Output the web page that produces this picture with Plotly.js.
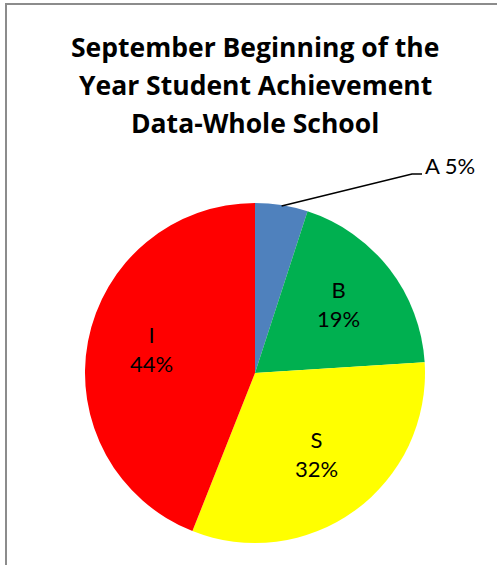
<!DOCTYPE html>
<html><head><meta charset="utf-8">
<script src="https://cdn.plot.ly/plotly-3.0.1.min.js"></script>
<style>html,body{margin:0;padding:0;background:#fff}#chart{width:497px;height:565px}</style>
</head><body><div id="chart"></div>
<script>
const categories = ['A', 'B', 'S', 'I'];
const values = [5, 19, 32, 44];
const colors = ['#4F81BD', '#00B050', '#FFFF00', '#FF0000'];
const titleLines = ['September Beginning of the', 'Year Student Achievement', 'Data-Whole School'];

const W = 497, H = 565;
const cx = 255, cy = 373, R = 170;
const FONT = 'Lato, "Open Sans", sans-serif';
const TFONT = '"Open Sans", Lato, sans-serif';
const px = x => x / W, py = y => 1 - y / H;

const total = values.reduce((a, b) => a + b, 0);
// cumulative mid-angles (clockwise from 12 o'clock)
let cum = 0;
const midAngles = values.map(v => { const m = (cum + v / 2) / total * 2 * Math.PI; cum += v; return m; });
const pct = v => Math.round(v / total * 100) + '%';

// leader line for the small first slice
const tipX = cx + R * Math.sin(midAngles[0]);
const tipY = cy - R * Math.cos(midAngles[0]) + 1;
const elbowX = 412, elbowY = 174, endX = 422;

const trace = {
  type: 'pie',
  labels: categories,
  values: values,
  sort: false,
  direction: 'clockwise',
  rotation: 0,
  marker: {colors: colors, line: {width: 0}},
  textinfo: 'none',
  hoverinfo: 'label+percent',
  domain: {x: [px(cx - R), px(cx + R)], y: [py(cy + R), py(cy - R)]},
  showlegend: false
};

const annotations = [];
titleLines.forEach((t, i) => annotations.push({
  xref: 'paper', yref: 'paper', x: px(255), y: py(47 + 38 * i), xanchor: 'center', yanchor: 'middle',
  text: '<b>' + t + '</b>', showarrow: false, font: {family: TFONT, size: 26.5, color: '#000'}
}));
// inside labels at a fixed radial fraction along each slice's mid-angle
for (let i = 1; i < categories.length; i++) {
  const r = 0.62 * R;
  annotations.push({
    xref: 'paper', yref: 'paper',
    x: px(cx + r * Math.sin(midAngles[i])), y: py(cy - r * Math.cos(midAngles[i]) - 4),
    xanchor: 'center', yanchor: 'middle',
    text: categories[i] + '<br>' + pct(values[i]), showarrow: false,
    font: {family: FONT, size: 22, color: '#000'}
  });
}
annotations.push({
  xref: 'paper', yref: 'paper', x: px(endX + 1), y: py(166), xanchor: 'left', yanchor: 'middle',
  text: categories[0] + ' ' + pct(values[0]), showarrow: false,
  font: {family: FONT, size: 22, color: '#000'}
});

const layout = {
  width: W, height: H,
  margin: {l: 0, r: 0, t: 0, b: 0},
  paper_bgcolor: '#fff',
  shapes: [
    {type: 'rect', xref: 'paper', yref: 'paper', x0: px(6), x1: px(W + 20), y0: py(H + 20), y1: py(4),
     line: {color: '#8c8c8c', width: 2}, fillcolor: 'rgba(0,0,0,0)'},
    {type: 'path', xref: 'paper', yref: 'paper',
     path: 'M ' + px(tipX) + ',' + py(tipY) + ' L ' + px(elbowX) + ',' + py(elbowY) + ' L ' + px(endX) + ',' + py(elbowY),
     line: {color: '#000', width: 1.5}}
  ],
  annotations: annotations
};

Plotly.newPlot('chart', [trace], layout, {displayModeBar: false});
</script></body></html>
